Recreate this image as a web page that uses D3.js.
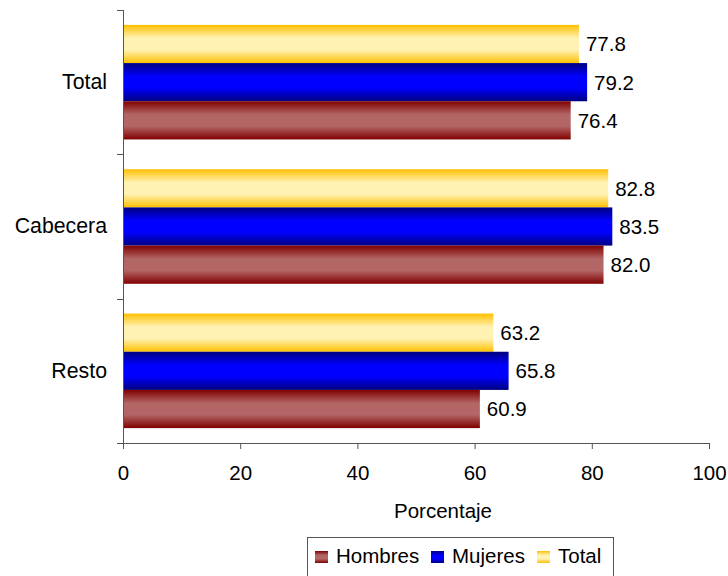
<!DOCTYPE html>
<html><head><meta charset="utf-8">
<script src="https://cdn.jsdelivr.net/npm/d3@7"></script>
<style>body{margin:0;background:#fff}svg{display:block}text{font-family:"Liberation Sans",Arial,sans-serif;fill:#000}</style>
</head><body>
<svg id="c" width="728" height="576"></svg>
<script>
const categories = ["Total", "Cabecera", "Resto"];
const seriesNames = ["Total", "Mujeres", "Hombres"]; // top to bottom within a group
const hombres = [76.4, 82.0, 60.9];
const mujeres = [79.2, 83.5, 65.8];
const total = [77.8, 82.8, 63.2];
const xTicks = [0, 20, 40, 60, 80, 100];
const legendItems = ["Hombres", "Mujeres", "Total"];

(function () {
const FS = 20.5;
const FSY = 21.3;
const FF = "Liberation Sans, Arial, sans-serif";
const values = {Hombres: hombres, Mujeres: mujeres, Total: total};
const grads = {
  Total: ["#FFC000", "#FFF2B3"],
  Mujeres: ["#000080", "#0000FF"],
  Hombres: ["#800000", "#B36666"]
};

const svg = d3.select("#c");
const mLeft = 123, mRight = 709, mTop = 10, mBottom = 443;
const x = d3.scaleLinear().domain([0, 100]).range([mLeft, mRight]);
const y = d3.scaleBand().domain(categories).range([mTop, mBottom]).paddingInner(0).paddingOuter(0);
const inner = d3.scaleBand().domain(seriesNames).range([0, y.bandwidth()]).paddingOuter(0.39).paddingInner(0);

const defs = svg.append("defs");
Object.entries(grads).forEach(([k, [edge, mid]]) => {
  const g = defs.append("linearGradient").attr("id", "g" + k).attr("x1", 0).attr("x2", 0).attr("y1", 0).attr("y2", 1);
  g.append("stop").attr("offset", "0%").attr("stop-color", edge);
  g.append("stop").attr("offset", "35%").attr("stop-color", mid);
  g.append("stop").attr("offset", "65%").attr("stop-color", mid);
  g.append("stop").attr("offset", "100%").attr("stop-color", edge);
});

// bars
categories.forEach((c, i) => {
  seriesNames.forEach(s => {
    const v = values[s][i];
    const by = y(c) + inner(s);
    svg.append("rect").attr("x", x(0)).attr("y", by).attr("width", x(v) - x(0)).attr("height", inner.bandwidth())
      .attr("fill", `url(#g${s})`);
    svg.append("text").attr("x", x(v) + 7).attr("y", by + inner.bandwidth() / 2).attr("dy", "0.36em")
      .attr("font-size", FS).text(v.toFixed(1));
  });
});

// x axis
const xa = svg.append("g").attr("transform", `translate(0,${mBottom})`)
  .call(d3.axisBottom(x).tickValues(xTicks).tickSize(6).tickPadding(16));
xa.attr("font-family", FF).attr("font-size", FS);
xa.select(".domain").attr("stroke", "#555").attr("d", `M${mLeft},0.5H${mRight}`);
xa.selectAll(".tick line").attr("stroke", "#555");
xa.selectAll("text").attr("font-size", FS).attr("font-family", FF);

// y axis
const ya = svg.append("g").attr("transform", `translate(${mLeft},0)`)
  .call(d3.axisLeft(y).tickSize(0).tickPadding(16));
ya.attr("font-family", FF).attr("font-size", FSY);
ya.select(".domain").attr("stroke", "#555").attr("d", `M0.5,${mTop}V${mBottom}`);
ya.selectAll("text").attr("font-size", FSY).attr("font-family", FF);
const bounds = categories.map(c => y(c)).concat([mBottom]);
svg.append("g").selectAll("line").data(bounds).join("line")
  .attr("x1", mLeft - 6).attr("x2", mLeft).attr("y1", d => Math.round(d) + 0.5).attr("y2", d => Math.round(d) + 0.5)
  .attr("stroke", "#555");

// axis title
svg.append("text").attr("x", 443).attr("y", 518).attr("text-anchor", "middle").attr("font-size", FS).text("Porcentaje");

// legend
const lg = svg.append("g");
lg.append("rect").attr("x", 307.5).attr("y", 537.5).attr("width", 306).attr("height", 45).attr("fill", "#fff").attr("stroke", "#555");
const lx = [315, 431, 537];
legendItems.forEach((s, i) => {
  lg.append("rect").attr("x", lx[i]).attr("y", 551).attr("width", 13).attr("height", 12).attr("fill", `url(#g${s})`);
  lg.append("text").attr("x", lx[i] + 21).attr("y", 563).attr("font-size", FS).text(s);
});
})();
</script>
</body></html>
